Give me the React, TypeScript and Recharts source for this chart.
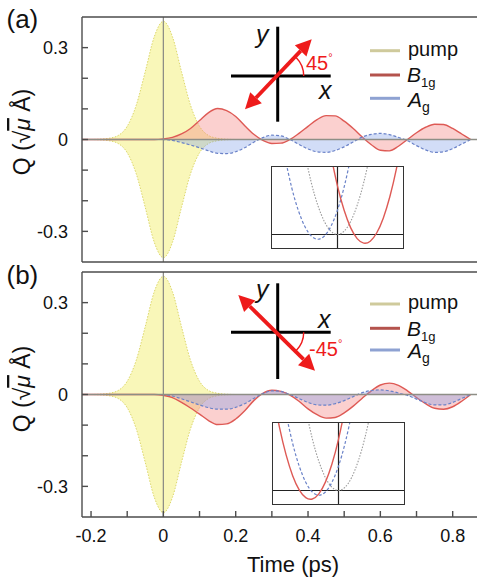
import React from 'react';
import { ComposedChart, LineChart, Area, Line, XAxis, YAxis, ReferenceLine } from 'recharts';

const FONT = '"Liberation Sans", Arial, Helvetica, sans-serif';
const FRAME = '#4d4d4d';
const ZERO = '#8e8e86';

// time grid, ps
const times = [
  -0.225, -0.2, -0.175, -0.15, -0.125, -0.1, -0.075, -0.05, -0.025,
  0, 0.025, 0.05, 0.075, 0.1, 0.125, 0.15, 0.175, 0.2, 0.225, 0.25, 0.275, 0.3, 0.325, 0.35,
  0.375, 0.4, 0.425, 0.45, 0.475, 0.5, 0.525, 0.55, 0.575, 0.6, 0.625, 0.65, 0.675, 0.7,
  0.725, 0.75, 0.775, 0.8, 0.825, 0.85,
];

// pump envelope (drawn mirrored above and below zero)
const pump = [
  0, 0, 0.001, 0.004, 0.013, 0.043, 0.112, 0.222, 0.336,
  0.386, 0.336, 0.222, 0.112, 0.043, 0.013, 0.004, 0.001, 0, 0, 0, 0, 0, 0, 0,
  0, 0, 0, 0, 0, 0, 0, 0, 0, 0, 0, 0, 0, 0,
  0, 0, 0, 0, 0, 0,
];

// (a) 45 deg polarisation
const b1gA = [
  0, 0, 0, 0, 0, 0, 0, 0, 0,
  0.002, 0.007, 0.018, 0.036, 0.062, 0.088, 0.101, 0.094, 0.075, 0.045, 0.017, -0.003, -0.013, -0.012, 0,
  0.02, 0.043, 0.065, 0.078, 0.077, 0.06, 0.036, 0.008, -0.017, -0.035, -0.037, -0.022, 0, 0.022,
  0.04, 0.05, 0.049, 0.036, 0.018, 0,
];
const agA = [
  0, 0, 0, 0, 0, 0, 0, 0, 0,
  0, -0.003, -0.01, -0.018, -0.027, -0.037, -0.045, -0.046, -0.04, -0.027, -0.009, 0.006, 0.014, 0.012, 0,
  -0.016, -0.031, -0.04, -0.042, -0.036, -0.024, -0.008, 0.008, 0.017, 0.02, 0.016, 0.007, -0.004, -0.02,
  -0.034, -0.042, -0.04, -0.03, -0.015, 0,
];

// (b) -45 deg polarisation
const b1gB = [
  0, 0, 0, 0, 0, 0, 0, 0, 0,
  -0.003, -0.01, -0.026, -0.044, -0.064, -0.085, -0.098, -0.096, -0.08, -0.053, -0.02, 0.004, 0.014, 0.01, -0.002,
  -0.022, -0.047, -0.066, -0.077, -0.075, -0.06, -0.038, -0.012, 0.012, 0.031, 0.037, 0.03, 0.012, -0.01,
  -0.03, -0.045, -0.048, -0.04, -0.022, 0,
];
const agB = [
  0, 0, 0, 0, 0, 0, 0, 0, 0,
  0, -0.005, -0.014, -0.024, -0.034, -0.043, -0.048, -0.048, -0.042, -0.03, -0.013, 0.003, 0.012, 0.01, 0,
  -0.013, -0.026, -0.034, -0.035, -0.03, -0.02, -0.007, 0.006, 0.013, 0.015, 0.012, 0.005, -0.003, -0.015,
  -0.027, -0.034, -0.034, -0.026, -0.013, 0,
];

const X_DOMAIN = [-0.225, 0.87];
const xTicks = [-0.2, -0.1, 0, 0.1, 0.2, 0.3, 0.4, 0.5, 0.6, 0.7, 0.8];
const xLabels = [-0.2, 0, 0.2, 0.4, 0.6, 0.8];
const yTicks = [-0.3, -0.2, -0.1, 0, 0.1, 0.2, 0.3];
const yLabels = [-0.3, 0, 0.3];

// potential wells for the insets
const wellX = [-1, -0.9, -0.8, -0.7, -0.6, -0.5, -0.4, -0.3, -0.2, -0.1, 0, 0.1, 0.2, 0.3, 0.4, 0.5, 0.6, 0.7, 0.8, 0.9, 1];
const grayWell = [null, null, null, null, null, 1.2, 0.768, 0.432, 0.192, 0.048, 0, 0.048, 0.192, 0.432, 0.768, 1.2, null, null, null, null, null];
const blueWell = [null, null, 1.13, 0.698, 0.362, 0.122, -0.022, -0.07, -0.022, 0.122, 0.362, 0.698, 1.13, null, null, null, null, null, null, null, null];
const redWellA = [null, null, null, null, null, null, null, null, null, 1.168, 0.717, 0.362, 0.102, -0.061, -0.128, -0.099, 0.026, 0.246, 0.563, 0.976, 1.485];
const redWellB = [1.43, 0.93, 0.527, 0.22, 0.009, -0.106, -0.126, -0.049, 0.124, 0.393, 0.758, 1.218, null, null, null, null, null, null, null, null, null];

const tickText = { fill: '#111', fontSize: 18, fontFamily: FONT };

function Panel({ b1g, ag, top, marginTop, bottomHeight, showLabels }) {
  const rows = times.map((t, i) => ({ t, pump: pump[i], pumpNeg: -pump[i], b1g: b1g[i], ag: ag[i] }));
  const height = marginTop + 10 + 245 + bottomHeight;
  return (
    <div style={{ position: 'absolute', left: 0, top }}>
      <ComposedChart width={490} height={height} data={rows} margin={{ top: marginTop, right: 2, bottom: 0, left: 22 }}>
        <XAxis
          type="number" dataKey="t" domain={X_DOMAIN} allowDataOverflow ticks={xTicks} interval={0}
          height={bottomHeight} tickSize={-6} tickMargin={showLabels ? 18 : 0}
          tick={showLabels ? tickText : false}
          tickFormatter={(v) => (xLabels.includes(v) ? String(v) : '')}
          stroke={FRAME} strokeWidth={1.4}
        />
        <XAxis
          xAxisId="top" orientation="top" type="number" dataKey="t" domain={X_DOMAIN} allowDataOverflow
          ticks={xTicks} interval={0} height={10} tickSize={-6} tick={false} stroke={FRAME} strokeWidth={1.4}
        />
        <YAxis
          type="number" domain={[-0.4, 0.4]} allowDataOverflow ticks={yTicks} interval={0} width={60}
          tickSize={-6} tickMargin={20} tick={tickText}
          tickFormatter={(v) => (yLabels.includes(v) ? String(v) : '')}
          stroke={FRAME} strokeWidth={1.4}
        />
        <YAxis
          yAxisId="right" orientation="right" type="number" domain={[-0.4, 0.4]} allowDataOverflow
          ticks={yTicks} interval={0} width={10} tickSize={-6} tick={false} stroke={FRAME} strokeWidth={1.4}
        />
        <Area type="monotone" dataKey="pump" baseValue={0} fill="#f6f294" fillOpacity={0.65} stroke="#dcd76c" strokeWidth={1} strokeDasharray="1.5 1.5" dot={false} activeDot={false} isAnimationActive={false} />
        <Area type="monotone" dataKey="pumpNeg" baseValue={0} fill="#f6f294" fillOpacity={0.65} stroke="#dcd76c" strokeWidth={1} strokeDasharray="1.5 1.5" dot={false} activeDot={false} isAnimationActive={false} />
        <Area type="monotone" dataKey="b1g" baseValue={0} fill="#f48a88" fillOpacity={0.4} stroke="#de5a55" strokeWidth={1.4} dot={false} activeDot={false} isAnimationActive={false} />
        <Area type="monotone" dataKey="ag" baseValue={0} fill="#7f9ee8" fillOpacity={0.35} stroke="#6a82c8" strokeWidth={1.2} strokeDasharray="3 2" dot={false} activeDot={false} isAnimationActive={false} />
        <ReferenceLine y={0} stroke={ZERO} strokeWidth={1.3} />
        <ReferenceLine x={0} stroke={ZERO} strokeWidth={1.3} />
      </ComposedChart>
    </div>
  );
}

function Inset({ left, top, red }) {
  const rows = wellX.map((x, i) => ({ x, gray: grayWell[i], blue: blueWell[i], red: red[i] }));
  return (
    <div style={{ position: 'absolute', left, top, width: 131, height: 81, border: '1.3px solid #333' }}>
      <LineChart width={131} height={81} data={rows} margin={{ top: 0, right: 0, bottom: 0, left: 0 }}>
        <XAxis type="number" dataKey="x" domain={[-1, 1]} allowDataOverflow hide />
        <YAxis type="number" domain={[-0.2, 1]} allowDataOverflow hide />
        <ReferenceLine y={0} stroke="#222" strokeWidth={1.2} />
        <ReferenceLine x={0} stroke="#222" strokeWidth={1.2} />
        <Line type="natural" dataKey="gray" stroke="#9a9a9a" strokeWidth={1.1} strokeDasharray="1.5 1.5" dot={false} activeDot={false} isAnimationActive={false} />
        <Line type="natural" dataKey="blue" stroke="#6a82c8" strokeWidth={1.2} strokeDasharray="3 2" dot={false} activeDot={false} isAnimationActive={false} />
        <Line type="natural" dataKey="red" stroke="#de5a55" strokeWidth={1.4} dot={false} activeDot={false} isAnimationActive={false} />
      </LineChart>
    </div>
  );
}

function head(tx, ty, fx, fy) {
  const L = Math.hypot(tx - fx, ty - fy);
  const ux = (tx - fx) / L;
  const uy = (ty - fy) / L;
  const bx = tx - ux * 16;
  const by = ty - uy * 16;
  return {
    points: `${tx},${ty} ${bx - uy * 8},${by + ux * 8} ${bx + uy * 8},${by - ux * 8}`,
    bx,
    by,
  };
}

function Polarisation({ cy, vTop, vBottom, a, b, arcEnd, yLab, xLab, angle, angleX, angleY }) {
  const h1 = head(a[0], a[1], b[0], b[1]);
  const h2 = head(b[0], b[1], a[0], a[1]);
  const red = '#ee1b1b';
  const cx = 277.7;
  return (
    <g>
      <line x1={231} y1={cy} x2={330.7} y2={cy} stroke="#000" strokeWidth={3} />
      <line x1={cx} y1={vTop} x2={cx} y2={vBottom} stroke="#000" strokeWidth={3} />
      <text x={yLab[0]} y={yLab[1]} fontSize={25} fontStyle="italic">y</text>
      <text x={xLab[0]} y={xLab[1]} fontSize={25} fontStyle="italic">x</text>
      <path d={`M ${cx + 26} ${cy} A 26 26 0 0 ${arcEnd[1] < cy ? 0 : 1} ${arcEnd[0]} ${arcEnd[1]}`} fill="none" stroke={red} strokeWidth={1.4} />
      <line x1={h1.bx} y1={h1.by} x2={h2.bx} y2={h2.by} stroke={red} strokeWidth={3.8} />
      <polygon points={h1.points} fill={red} />
      <polygon points={h2.points} fill={red} />
      <text x={angleX} y={angleY} fontSize={20} fill={red}>
        {angle}
        <tspan fontSize={11} dy={-9}>°</tspan>
      </text>
    </g>
  );
}

function LegendBlock({ lines, base }) {
  const items = [
    { color: '#cfca9c', y: lines[0] },
    { color: '#b4534d', y: lines[1] },
    { color: '#8ea2d2', y: lines[2] },
  ];
  return (
    <g>
      {items.map((it) => (
        <line key={it.y} x1={370} y1={it.y} x2={400} y2={it.y} stroke={it.color} strokeWidth={3} />
      ))}
      <text x={408} y={base[0]} fontSize={20}>pump</text>
      <text x={407} y={base[1]} fontSize={21}>
        <tspan fontStyle="italic">B</tspan>
        <tspan fontSize={13} dy={5}>1g</tspan>
      </text>
      <text x={408} y={base[2]} fontSize={21}>
        <tspan fontStyle="italic">A</tspan>
        <tspan fontSize={14} dy={5}>g</tspan>
      </text>
    </g>
  );
}

function QLabel({ x, y }) {
  return (
    <text transform={`translate(${x},${y}) rotate(-90)`} textAnchor="middle" fontSize={23}>
      Q (√<tspan fontStyle="italic" textDecoration="overline">μ</tspan> Å)
    </text>
  );
}

export default function App() {
  return (
    <div style={{ position: 'fixed', left: 0, top: 0, width: 477, height: 582, overflow: 'hidden', background: '#fff', fontFamily: FONT }}>
      <Panel b1g={b1gA} ag={agA} top={0} marginTop={7} bottomHeight={10} showLabels={false} />
      <Panel b1g={b1gB} ag={agB} top={262} marginTop={0} bottomHeight={50} showLabels />
      <Inset left={270.5} top={165.5} red={redWellA} />
      <Inset left={271.5} top={421.5} red={redWellB} />
      <svg width={477} height={582} style={{ position: 'absolute', left: 0, top: 0, pointerEvents: 'none' }} fontFamily={FONT} fill="#111">
        <text x={6.5} y={28} fontSize={26}>(a)</text>
        <text x={6.5} y={284} fontSize={26}>(b)</text>
        <QLabel x={30} y={132} />
        <QLabel x={30} y={389} />
        <Polarisation
          cy={76} vTop={26.7} vBottom={121.7} a={[311.7, 39.3]} b={[245, 109.3]}
          arcEnd={[277.7 + 18.4, 76 - 18.4]} yLab={[256, 43]} xLab={[319, 99]}
          angle="45" angleX={306} angleY={70}
        />
        <Polarisation
          cy={332.3} vTop={283.3} vBottom={379} a={[315, 370.7]} b={[238.3, 295]}
          arcEnd={[277.7 + 18.4, 332.3 + 18.4]} yLab={[256, 298]} xLab={[318, 328]}
          angle="-45" angleX={309} angleY={356}
        />
        <LegendBlock lines={[50.7, 75, 98.3]} base={[55.5, 81.5, 106.5]} />
        <LegendBlock lines={[304, 328.3, 350]} base={[309, 336, 357.5]} />
        <text x={293} y={572} fontSize={22} textAnchor="middle">Time (ps)</text>
      </svg>
    </div>
  );
}
